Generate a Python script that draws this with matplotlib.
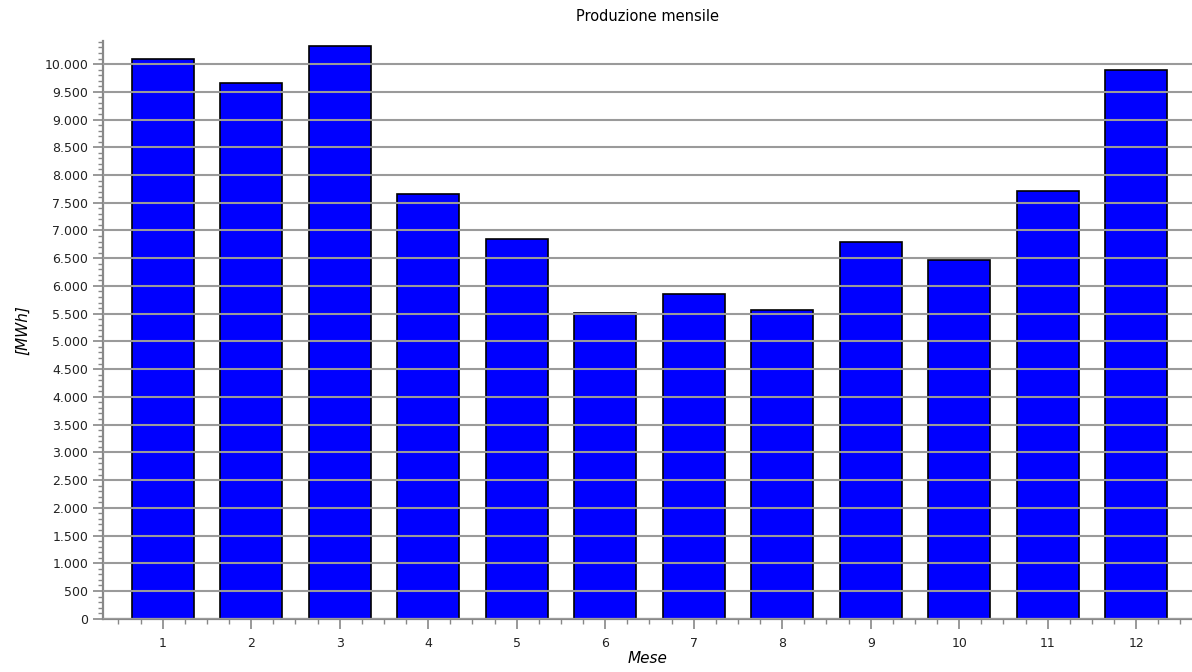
import matplotlib.pyplot as plt
import numpy as np
from matplotlib.ticker import FuncFormatter, MultipleLocator

months = [1, 2, 3, 4, 5, 6, 7, 8, 9, 10, 11, 12]
production = [10100, 9650, 10320, 7660, 6840, 5520, 5860, 5570, 6790, 6470, 7720, 9900]

title = 'Produzione mensile'
ylabel = '[MWh]'
xlabel = 'Mese'

plt.rcParams['font.family'] = 'DejaVu Sans'

fig = plt.figure(figsize=(11.92, 6.72), dpi=100)
ax = fig.add_axes([0.0864, 0.0793, 0.9136, 0.86])

ax.bar(months, production, width=0.7, color='#0000FF', edgecolor='black',
       linewidth=1.2, zorder=1)

ax.set_xlim(0.325, 12.63)
ax.set_ylim(0, 10420)

ax.xaxis.set_major_locator(MultipleLocator(1))
ax.xaxis.set_minor_locator(MultipleLocator(0.25))
ax.yaxis.set_major_locator(MultipleLocator(500))
ax.yaxis.set_minor_locator(MultipleLocator(100))
ax.yaxis.set_major_formatter(FuncFormatter(lambda v, p: f'{int(v):,}'.replace(',', '.')))

ax.set_axisbelow(False)
ax.grid(axis='y', which='major', color='#9a9a9a', linewidth=1.5)

for side in ['top', 'right']:
    ax.spines[side].set_visible(False)
for side in ['left', 'bottom']:
    ax.spines[side].set_color('#888888')
    ax.spines[side].set_linewidth(1.6)

ax.tick_params(axis='both', which='major', length=7, width=1.2, color='#888888',
               labelsize=9, labelcolor='#222222')
ax.tick_params(axis='both', which='minor', length=3.5, width=1, color='#888888')
ax.tick_params(axis='x', pad=6)

ax.set_title(title, fontsize=10.5, pad=14)
ax.set_ylabel(ylabel, fontsize=11, style='italic', labelpad=10)
ax.set_xlabel(xlabel, fontsize=11, style='italic', labelpad=1)

fig.savefig('out.png', dpi=100)
